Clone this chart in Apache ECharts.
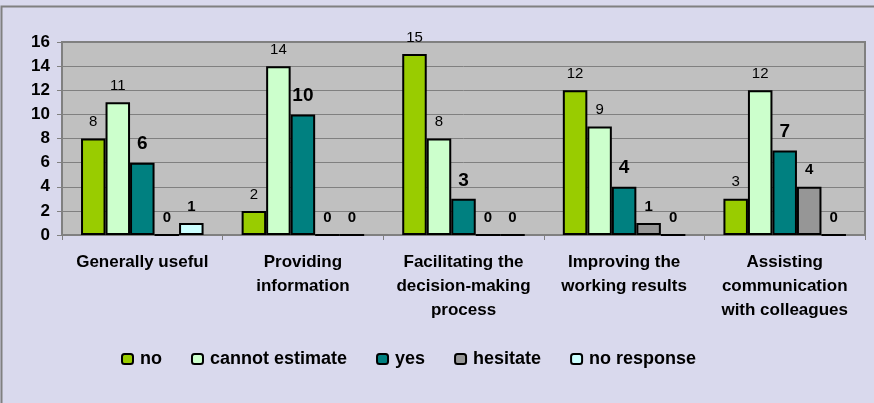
<!DOCTYPE html>
<html>
<head>
<meta charset="utf-8">
<script src="https://cdn.jsdelivr.net/npm/echarts@6/dist/echarts.min.js"></script>
<style>
    html, body {margin: 0; padding: 0; background: #D9D9ED;}
    #chart {width: 874px; height: 403px;}
</style>
</head>
<body>
<div id="chart"></div>
<script>
// 数据
var categories = ['Generally useful', 'Providing\ninformation', 'Facilitating the\ndecision-making\nprocess', 'Improving the\nworking results', 'Assisting\ncommunication\nwith colleagues'];
var seriesNames = ['no', 'cannot estimate', 'yes', 'hesitate', 'no response'];
var noData = [8, 2, 15, 12, 3];
var cannotData = [11, 14, 8, 9, 12];
var yesData = [6, 10, 3, 4, 7];
var hesitateData = [0, 0, 0, 1, 4];
var noResponseData = [1, 0, 0, 0, 0];
var colors = ['#99CC00', '#CCFFCC', '#008080', '#969696', '#CCFFFF'];

var arial = "'Liberation Sans', Arial, sans-serif";

function makeSeries(name, data, color, label) {
    return {
        name: name,
        type: 'bar',
        data: data,
        barGap: 0,
        barCategoryGap: '23.7%',
        itemStyle: {color: color, borderColor: '#000', borderWidth: 2},
        label: Object.assign({show: true, position: 'top', distance: 9, color: '#000', fontFamily: arial}, label)
    };
}

var chart = echarts.init(document.getElementById('chart'));
var option = {
    backgroundColor: '#D9D9ED',
    animation: false,
    graphic: [{
        type: 'rect',
        shape: {x: 1.5, y: 6.5, width: 900, height: 500},
        style: {fill: 'none', stroke: '#808080', lineWidth: 2},
        silent: true
    }],
    legend: {
        left: 116,
        top: 345,
        itemWidth: 11,
        itemHeight: 10,
        itemGap: 29,
        textStyle: {fontFamily: arial, fontWeight: 'bold', fontSize: 18, color: '#000', padding: [0, 0, 0, 2]},
        data: seriesNames
    },
    grid: {
        left: 62, right: 9, top: 42, bottom: 168,
        show: true,
        backgroundColor: '#C0C0C0',
        borderColor: '#808080',
        borderWidth: 2
    },
    xAxis: {
        type: 'category',
        data: categories,
        axisLine: {lineStyle: {color: '#808080', width: 2}},
        axisTick: {show: true, length: 5, lineStyle: {color: '#808080'}},
        axisLabel: {
            interval: 0,
            margin: 15,
            color: '#000',
            fontFamily: arial,
            fontWeight: 'bold',
            fontSize: 17,
            lineHeight: 24
        }
    },
    yAxis: {
        type: 'value',
        min: 0,
        max: 16,
        interval: 2,
        axisLine: {show: true, lineStyle: {color: '#808080', width: 2}},
        axisTick: {show: true, length: 5, lineStyle: {color: '#808080'}},
        splitLine: {lineStyle: {color: '#808080', width: 1}},
        axisLabel: {color: '#000', fontFamily: arial, fontWeight: 'bold', fontSize: 17, margin: 12}
    },
    series: [
        makeSeries('no', noData, colors[0], {fontSize: 15}),
        makeSeries('cannot estimate', cannotData, colors[1], {fontSize: 15}),
        makeSeries('yes', yesData, colors[2], {fontSize: 19, fontWeight: 'bold'}),
        makeSeries('hesitate', hesitateData, colors[3], {fontSize: 15, fontWeight: 'bold'}),
        makeSeries('no response', noResponseData, colors[4], {fontSize: 15, fontWeight: 'bold'})
    ]
};
chart.setOption(option);
</script>
</body>
</html>
